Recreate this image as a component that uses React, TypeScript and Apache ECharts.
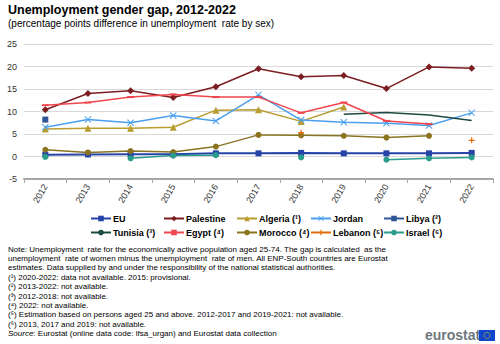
import React, { useEffect, useRef } from "react";
import * as echarts from "echarts";

const years = ["2012", "2013", "2014", "2015", "2016", "2017", "2018", "2019", "2020", "2021", "2022"];
const eu = [0.4, 0.45, 0.5, 0.5, 0.7, 0.7, 0.8, 0.7, 0.7, 0.7, 0.8];
const palestine = [10.4, 14.0, 14.6, 13.1, 15.5, 19.5, 17.7, 18.0, 15.1, 19.9, 19.6];
const algeria = [6.1, 6.3, 6.3, 6.5, 10.3, 10.4, 7.8, 11.0, null, null, null];
const jordan = [6.5, 8.2, 7.5, 9.1, 7.9, 13.7, 8.1, 7.6, 7.4, 6.9, 9.7];
const libya = [8.2, null, null, null, null, null, null, null, null, null, null];
const tunisia = [null, null, null, null, null, null, null, 9.4, 9.8, 9.2, 8.0];
const egypt = [11.4, 12.0, 13.2, 13.8, 13.2, 13.2, 9.7, 12.0, 7.9, 7.2, null];
const morocco = [1.5, 0.9, 1.2, 1.0, 2.2, 4.8, 4.7, 4.6, 4.2, 4.6, null];
const lebanon = [null, null, null, null, null, null, 5.3, null, null, null, 3.6];
const israel = [-0.1, null, -0.4, 0.2, 0.3, null, -0.2, null, -0.7, -0.4, -0.2];

const yTicks = { min: -5, max: 25, interval: 5 };

const title = "Unemployment gender gap, 2012-2022";
const subtitle = "(percentage points difference in unemployment  rate by sex)";
const notes = [
  "Note: Unemployment  rate for the economically active population aged 25-74. The gap is calculated  as the",
  "unemployment  rate of women minus the unemployment  rate of men. All ENP-South countries are Eurostat",
  "estimates. Data supplied by and under the responsibility of the national statistical authorities.",
  "(\u00b9) 2020-2022: data not available. 2015: provisional.",
  "(\u00b2) 2013-2022: not available.",
  "(\u00b3) 2012-2018: not available.",
  "(\u2074) 2022: not available.",
  "(\u2075) Estimation based on persons aged 25 and above. 2012-2017 and 2019-2021: not available.",
  "(\u2076) 2013, 2017 and 2019: not available.",
];

const X_SHAPE = "path://M0,1L1,0L5,4L9,0L10,1L6,5L10,9L9,10L5,6L1,10L0,9L4,5Z";
const PLUS_SHAPE = "path://M4,0H6V4H10V6H6V10H4V6H0V4H4Z";

const seriesDefs = [
  { name: "EU", data: eu, color: "#2644a7", symbol: "rect", size: 6, width: 2 },
  { name: "Palestine", data: palestine, color: "#7c1d22", symbol: "diamond", size: 7, width: 1.5 },
  { name: "Algeria (\u00b9)", data: algeria, color: "#b99d30", symbol: "triangle", size: 7, width: 1.5 },
  { name: "Jordan", data: jordan, color: "#4aa0ee", symbol: X_SHAPE, size: 7, width: 1.5 },
  { name: "Libya (\u00b2)", data: libya, color: "#2f5597", symbol: "rect", size: 6, width: 1.5 },
  { name: "Tunisia (\u00b3)", data: tunisia, color: "#1d4a42", symbol: "none", size: 0, width: 1.5 },
  { name: "Egypt (\u2074)", data: egypt, color: "#f0464f", symbol: "rect", size: [7, 2], width: 1.5 },
  { name: "Morocco (\u2074)", data: morocco, color: "#8b7420", symbol: "circle", size: 6, width: 1.5 },
  { name: "Lebanon (\u2075)", data: lebanon, color: "#e26b0a", symbol: PLUS_SHAPE, size: 6, width: 1.5 },
  { name: "Israel (\u2076)", data: israel, color: "#2a9d8c", symbol: "circle", size: 6, width: 1.5 },
];

const legendLeft = [90, 163, 236, 310, 383];
const legendTop = [214, 228];

export default function App() {
  const ref = useRef<HTMLDivElement>(null);
  useEffect(() => {
    if (!ref.current) return;
    const chart = echarts.init(ref.current, null, { renderer: "svg" });
    const font = "Liberation Sans, Arial, sans-serif";
    const legends = seriesDefs.map((s, i) => ({
      data: [s.name],
      left: legendLeft[i % 5],
      top: legendTop[Math.floor(i / 5)],
      itemWidth: 20,
      itemHeight: 7,
      itemGap: 0,
      padding: 0,
      textStyle: { fontSize: 9, fontWeight: "bold", color: "#000", fontFamily: font, padding: [0, 0, 0, -3] },
    }));
    const noteTexts = notes.map((t, i) => ({
      type: "text",
      left: 8,
      top: 245 + i * 9.4,
      style: { text: t, font: `8px ${font}`, fill: "#000" },
    }));
    chart.setOption({
      animation: false,
      textStyle: { fontFamily: font },
      grid: { left: 24, right: 7, top: 44, bottom: 165, containLabel: false },
      legend: legends,
      xAxis: {
        type: "category",
        data: years,
        boundaryGap: true,
        axisLine: { onZero: false, lineStyle: { color: "#a6a6a6", width: 2 } },
        axisTick: { show: true, length: 4, lineStyle: { color: "#a6a6a6" } },
        axisLabel: { rotate: 60, fontSize: 9, color: "#333", margin: 6, fontFamily: font },
        splitLine: { show: false },
      },
      yAxis: {
        type: "value",
        min: yTicks.min,
        max: yTicks.max,
        interval: yTicks.interval,
        axisLine: { show: false },
        axisTick: { show: false },
        axisLabel: { fontSize: 9, color: "#333", margin: 7, fontFamily: font },
        splitLine: { lineStyle: { color: "#d9d9d9", width: 1 } },
      },
      series: seriesDefs.map((s) => ({
        name: s.name,
        type: "line",
        data: s.data,
        connectNulls: false,
        symbol: s.symbol,
        symbolSize: s.size,
        showSymbol: s.symbol !== "none",
        color: s.color,
        lineStyle: { color: s.color, width: s.width },
        itemStyle: { color: s.color },
        emphasis: { disabled: true },
      })),
      graphic: [
        {
          type: "text",
          left: 8,
          top: 3,
          style: { text: title, font: `bold 12.5px ${font}`, fill: "#000" },
        },
        {
          type: "text",
          left: 8,
          top: 18,
          style: { text: subtitle, font: `10px ${font}`, fill: "#000" },
        },
        ...noteTexts,
        {
          type: "text",
          left: 8,
          top: 245 + notes.length * 9.4,
          style: {
            rich: { i: { font: `italic 8px ${font}`, fill: "#000" }, n: { font: `8px ${font}`, fill: "#000" } },
            text: "{i|Source}{n|: Eurostat (online data code: lfsa_urgan) and Eurostat data collection}",
          },
        },
        {
          type: "text",
          left: 425,
          top: 328,
          style: { text: "eurostat", font: `bold 14px ${font}`, fill: "#6d7780" },
        },
        {
          type: "rect",
          shape: { x: 479, y: 330, width: 16, height: 11 },
          style: { fill: "#0e47cb" },
        },
        {
          type: "circle",
          shape: { cx: 487, cy: 335.5, r: 3 },
          style: { fill: "none", stroke: "#ffcc00", lineWidth: 1, lineDash: [1, 1] },
        },
      ],
    });
    return () => chart.dispose();
  }, []);
  return (
    <div
      ref={ref}
      style={{ position: "fixed", left: 0, top: 0, width: 500, height: 344, background: "#fff" }}
    />
  );
}
